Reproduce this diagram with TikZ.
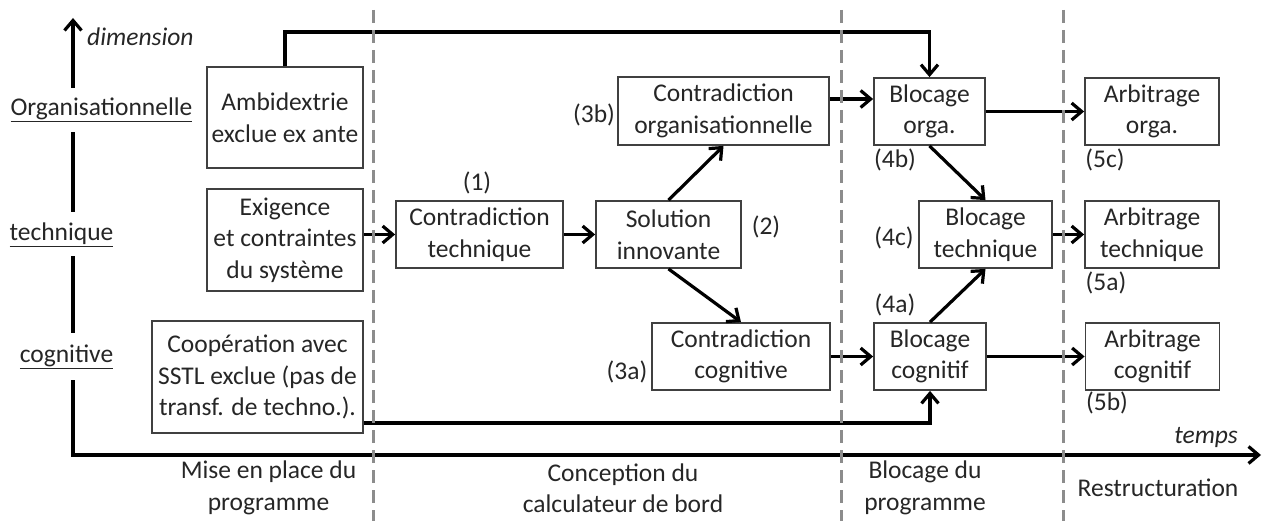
\documentclass[tikz,border=0pt]{standalone}
\usepackage{fontspec}
\setmainfont{Carlito}
\usetikzlibrary{arrows.meta,positioning}

\begin{document}
\begin{tikzpicture}[x=1pt, y=-1pt, font=\fontsize{25.5pt}{31.5pt}\selectfont,
  box/.style = {rectangle, draw=black!75, line width=1.8pt, align=center, inner sep=1pt, text=black!85, minimum height=67},
  lbl/.style = {inner sep=0, text=black!85, align=center},
  link/.style = {line width=3.2pt},
  >={Straight Barb[length=10pt,width=17pt]}, node distance=222.5]

\useasboundingbox (0,0) rectangle (1264,521);

\coordinate (o) at (73,455);
\coordinate (ytip) at (73,18);
\coordinate (xtip) at (1261,455);
\draw[link,<->] (ytip) -- (o) -- (xtip);

\node[lbl, fill=white, minimum height=44](dorg) at (101.5,110){\underline{Organisationnelle}};
\node[lbl, fill=white, minimum height=44](dtech) at (61.5,234.5){\underline{technique}};
\node[lbl, fill=white, minimum height=46](dcogn) at (66.5,356.5){\underline{cognitive}};
\node[lbl, anchor=west](dim) at (87,37){\itshape dimension};
\node[lbl, anchor=east](temps) at (1238,437){\itshape temps};

\node[box, minimum width=156, minimum height=101](amb) at (285,117.5){Ambidextrie\\exclue ex ante};
\node[box, minimum width=156, minimum height=102](exig) at (285,240){Exigence\\et contraintes\\du système};
\node[box, minimum width=211, minimum height=112](coop) at (257.5,377){Coopération avec\\SSTL exclue (pas de\\transf. de techno.).};
\node[box, minimum width=167](ct) at (479.5,234.5){Contradiction\\technique};
\node[box, minimum width=145, right of=ct, node distance=189](sol){Solution\\innovante};
\node[box, minimum width=211, minimum height=68](co) at (723.5,111){Contradiction\\organisationnelle};
\node[box, minimum width=178](cc) at (741,356.5){Contradiction\\cognitive};
\node[box, minimum width=111](bo) at (929.5,111.5){Blocage\\orga.};
\node[box, minimum width=133](bt) at (985.5,234.5){Blocage\\technique};
\node[box, minimum width=112](bc) at (930,356.5){Blocage\\cognitif};
\node[box, minimum width=134, right of=bo](arbo){Arbitrage\\orga.};
\node[box, minimum width=134, right of=bt, node distance=166.5](arbt){Arbitrage\\technique};
\node[box, minimum width=134, right of=bc](arbc){Arbitrage\\cognitif};

\node[lbl](n1) at (477,183){(1)};
\node[lbl](n2) at (766,227){(2)};
\node[lbl](n3b) at (594,115){(3b)};
\node[lbl](n3a) at (627,372){(3a)};
\node[lbl](n4b) at (895,160){(4b)};
\node[lbl](n4c) at (894,238){(4c)};
\node[lbl](n4a) at (895,305){(4a)};
\node[lbl](n5c) at (1105,160){(5c)};
\node[lbl](n5a) at (1106,283){(5a)};
\node[lbl](n5b) at (1107,403){(5b)};

\node[lbl](p1) at (268.5,488){Mise en place du\\programme};
\node[lbl](p2) at (623,488){Conception du\\calculateur de bord};
\node[lbl](p3) at (925,488){Blocage du\\programme};
\node[lbl](p4) at (1158,488){Restructuration};

\draw[link,->] (exig.east |- ct.west) to (ct.west);
\draw[link,->] (ct) to (sol);
\draw[link,->] (sol.north) to (co.south);
\draw[link,->] (sol.south) to (cc.north);
\draw[link,->] ([yshift=12pt]co.east) to ([yshift=12pt]co.east -| bo.west);
\draw[link,->] (cc) to (bc);
\draw[link,->] (bo) to (arbo);
\draw[link,->] (bt) to (arbt);
\draw[link,->] (bc) to (arbc);
\draw[link,->] (bo.south) to (bt.north);
\draw[link,->] (bc.north) to (bt.south);
\draw[link,->] (amb.north) -- ++(0,-34) -| (bo.north);
\draw[link,->] ([yshift=-46pt]coop.east) -| (bc.south);

\foreach \x in {373,841,1063}
  \draw[black!45, line width=3pt, dash pattern=on 13pt off 7pt] (\x,10) -- (\x,521);

\end{tikzpicture}
\end{document}
